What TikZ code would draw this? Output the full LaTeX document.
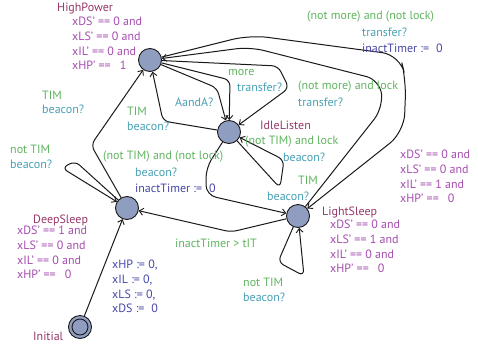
\documentclass[tikz,border=0pt]{standalone}
\usepackage{fontspec}
\setmainfont{PT Sans}
\usetikzlibrary{arrows.meta}

\definecolor{locname}{RGB}{150,55,105}
\definecolor{invcol}{RGB}{165,75,175}
\definecolor{guardcol}{RGB}{95,180,95}
\definecolor{synccol}{RGB}{70,160,180}
\definecolor{assigncol}{RGB}{70,70,170}
\definecolor{locfill}{RGB}{143,157,192}
\definecolor{edgecol}{RGB}{25,25,25}

\tikzset{
  loc/.style={circle, draw=edgecol, line width=0.9pt, fill=locfill, minimum size=23pt, inner sep=0pt},
  innerloc/.style={circle, draw=edgecol, line width=0.9pt, fill=locfill, minimum size=16pt, inner sep=0pt},
  lbl/.style={inner sep=0pt, anchor=west, font=\fontsize{12}{14.7}\selectfont, align=left},
  locname/.style={lbl, text=locname},
  inv/.style={lbl, text=invcol},
  guard/.style={lbl, text=guardcol},
  sync/.style={lbl, text=synccol},
  assign/.style={lbl, text=assigncol},
  edge/.style={draw=edgecol, line width=1pt, rounded corners=6pt,
               -{Straight Barb[length=4pt,width=7pt,line width=0.9pt]}},
}

\begin{document}
\begin{tikzpicture}[x=1pt,y=-1pt]
\useasboundingbox (0,0) rectangle (478,348);

% locations
\node[loc] (HP) at (150,60) {};
\node[loc] (IL) at (229,132) {};
\node[loc] (DS) at (127,208) {};
\node[loc] (LS) at (298,216) {};
\node[loc] (IN) at (80,327) {};
\node[innerloc] (INc) at (IN.center) {};

% location names
\node[locname] (nHP) at (57,9) {HighPower};
\node[locname] (nIL) at (260,125) {IdleListen};
\node[locname] (nDS) at (33,220) {DeepSleep};
\node[locname] (nLS) at (322,212) {LightSleep};
\node[locname] (nIN) at (33,336) {Initial};

% invariants
\node[inv, anchor=north west] (iHP) at (72,17) {xDS’ == 0 and\\xLS’ == 0 and\\xIL’ == 0 and\\xHP’ ==\hspace{9pt}1};
\node[inv, anchor=north west] (iIL) at (400,150) {xDS’ == 0 and\\xLS’ == 0 and\\xIL’ == 1 and\\xHP’ ==\hspace{9pt}0};
\node[inv, anchor=north west] (iDS) at (17,226) {xDS’ == 1 and\\xLS’ == 0 and\\xIL’ == 0 and\\xHP’ ==\hspace{9pt}0};
\node[inv, anchor=north west] (iLS) at (330,220) {xDS’ == 0 and\\xLS’ == 1 and\\xIL’ == 0 and\\xHP’ ==\hspace{9pt}0};

% edges
\draw[edge] (IN) -- (DS);
\draw[edge] (DS) -- (91,145) -- (HP);
\draw[edge] (DS) -- (75,161) -- (62,168) -- (DS);
\draw[edge] (IL) -- (163,121) -- (HP);
\draw[edge] (HP) -- (217,88) -- (IL);
\draw[edge] (HP) -- (230,80) -- (IL);
\draw[edge] (HP) -- (278,66) -- (289,88) -- (IL);
\draw[edge, rounded corners=18pt] (HP) -- (250,35) -- (400,55) -- (406,80) -- (404,132) -- (LS);
\draw[edge, rounded corners=14pt] (LS) -- (383,108) -- (380,80) -- (250,47) -- (HP);
\draw[edge] (IL) -- (280,188) -- (284,160) -- (IL);
\draw[edge, rounded corners=10pt] (IL) -- (206,168) -- (206,195) -- (LS);
\draw[edge] (LS) -- (231,232) -- (DS);
\draw[edge] (LS) -- (278,262) -- (304,276) -- (LS);

% edge labels
\node[assign, anchor=north west] (aIN) at (112,260) {xHP := 0,\\xIL := 0,\\xLS := 0,\\xDS :=\hspace{7pt}0};

\node[guard] (gDH) at (42,95) {TIM};
\node[sync] (sDH) at (42,109) {beacon?};

\node[guard] (gDD) at (10,149) {not TIM};
\node[sync] (sDD) at (10,164) {beacon?};

\node[guard] (gIH) at (127,111) {TIM};
\node[sync] (sIH) at (127,126) {beacon?};

\node[sync] (sHIa) at (175,102) {AandA?};

\node[guard] (gHIm) at (228,72) {more};
\node[sync] (sHIm) at (237,87) {transfer?};

\node[guard] (gHIl) at (298,87) {(not more) and lock};
\node[sync] (sHIl) at (298,102) {transfer?};

\node[guard] (gHL) at (307,17) {(not more) and (not lock)};
\node[sync] (sHL) at (362,32) {transfer?};
\node[assign] (aHL) at (362,48) {inactTimer :=\hspace{7pt}0};

\node[guard] (gII) at (245,142) {(not TIM) and lock};
\node[sync] (sII) at (283,157) {beacon?};

\node[guard] (gLH) at (298,180) {TIM};
\node[sync] (sLH) at (267,196) {beacon?};

\node[guard] (gIL) at (103,157) {(not TIM) and (not lock)};
\node[sync] (sIL) at (135,172) {beacon?};
\node[assign] (aIL) at (135,188) {inactTimer :=\hspace{7pt}0};

\node[guard] (gLD) at (175,243) {inactTimer > tIT};

\node[guard] (gLL) at (243,282) {not TIM};
\node[sync] (sLL) at (243,297) {beacon?};
\end{tikzpicture}
\end{document}
